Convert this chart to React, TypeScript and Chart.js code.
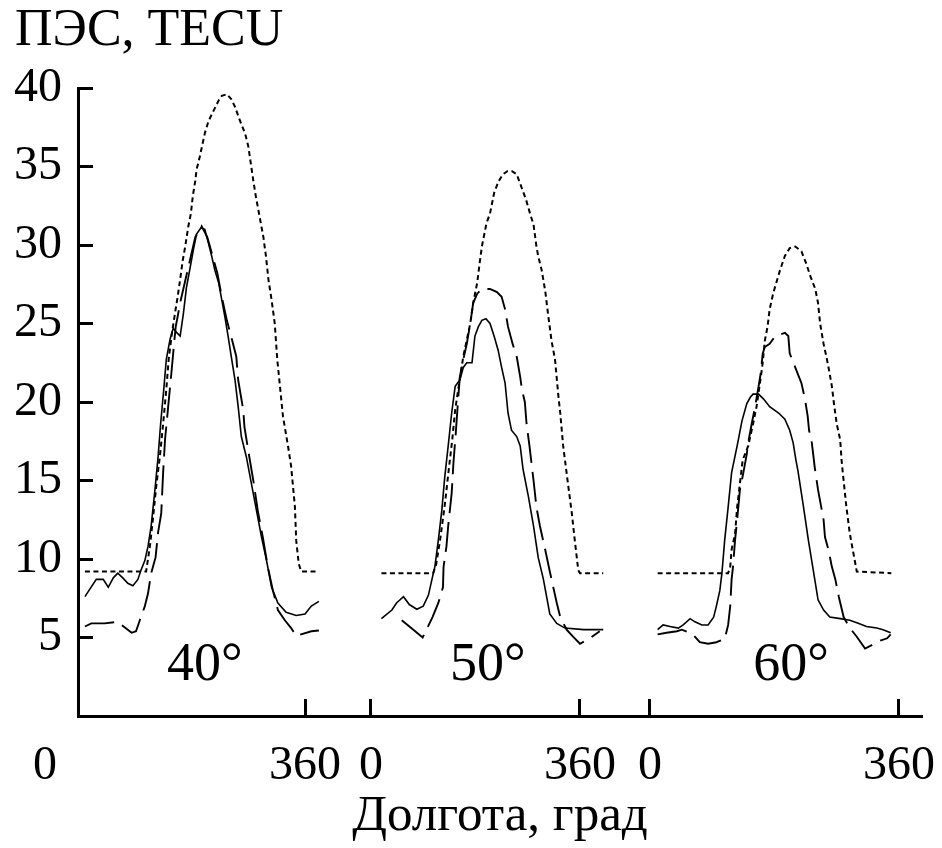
import React, { useEffect, useRef } from 'react';
import { Chart, registerables } from 'chart.js';

Chart.register(...registerables);

// ---- Data (longitude, deg; TEC, TECU) ----
// 40°
const lat40SolidLon = [11,19,29,40,48,56,63,71,79,87,95,100,106,111,116,122,127,131,136,140,146,151,157,162,167,172,178,183,188,195,201,207,212,217,223,228,233,238,243,249,254,259,267,275,283,291,299,307,317,330,346,360,370,382];
const lat40SolidTec = [7.6,8.1,8.7,8.7,8.2,8.8,9.1,8.8,8.45,8.3,8.7,9.3,9.9,10.8,12.1,14.4,16.5,18.6,20.8,22.7,24.0,24.7,24.4,24.2,25.6,27.3,28.6,29.7,30.7,31.1,31.0,30.1,29.3,28.4,27.6,26.5,25.4,24.2,22.9,21.4,19.7,17.8,16.5,14.8,13.1,11.4,9.9,8.2,7.2,6.6,6.4,6.5,7.0,7.3];
const lat40LongLon = [11,21,42,63,85,92,98,106,111,116,123,127,132,135,138,143,148,153,155,163,175,186,196,205,212,221,228,236,244,251,254,262,264,270,278,285,293,301,309,317,328,338,346,370,382];
const lat40LongTec = [5.7,5.9,5.9,6.0,5.3,5.4,6.1,7.0,7.8,9.1,10.1,11.7,12.9,15.5,17.6,19.7,21.8,24.0,24.8,26.5,28.6,30.5,31.2,30.5,29.5,28.2,26.7,25.2,24.0,22.9,21.4,19.5,18.4,16.9,15.0,13.1,11.4,9.5,8.0,6.75,6.1,5.6,5.1,5.4,5.45];
const lat40ShortLon = [11,108,114,119,124,130,135,140,144,149,154,158,162,166,170,175,179,182,186,188,193,201,207,223,228,236,243,249,257,265,270,274,278,282,288,294,298,302,307,312,316,325,333,338,344,346,350,354,381];
const lat40ShortTec = [9.2,9.2,10.8,12.6,14.6,16.6,18.6,20.8,22.8,24.4,25.7,26.7,27.8,29.0,29.9,31.2,32.0,33.1,34.1,34.8,35.6,37.1,37.9,39.2,39.5,39.6,39.3,38.8,37.9,37.1,36.3,35.2,34.1,33.1,31.8,30.5,29.3,27.8,26.5,25.0,22.7,19.1,17.2,15.9,13.3,11.2,9.7,9.2,9.2];

// 50°
const lat50SolidLon = [18,36,44,56,66,79,90,99,105,110,116,122,127,133,139,145,153,159,165,174,179,185,191,198,205,212,219,225,231,236,242,251,257,262,271,280,288,297,308,320,334,366,400];
const lat50SolidTec = [6.2,6.75,7.2,7.6,7.1,6.8,7.0,7.7,8.7,9.5,11.2,13.1,15.2,17.2,19.3,21.0,21.4,22.2,22.5,22.5,24.2,24.8,25.2,25.3,25.0,24.2,23.3,22.2,21.2,19.3,18.2,17.8,17.2,15.7,14.0,12.1,10.1,8.7,6.5,5.9,5.6,5.5,5.5];
const lat50LongLon = [53,73,89,106,116,124,125,130,133,139,142,146,150,153,159,165,171,176,183,191,205,217,225,231,236,244,251,257,260,265,268,273,280,285,291,300,308,314,320,326,337,348,360,377,394];
const lat50LongTec = [6.1,5.5,5.0,6.3,7.2,8.2,9.5,10.8,12.1,14.2,16.1,18.0,20.1,21.6,22.7,23.7,25.0,26.3,26.9,27.2,27.2,27.0,26.7,25.9,24.8,23.7,22.9,21.6,20.8,20.0,18.6,17.2,15.0,13.3,12.1,10.6,9.2,8.2,7.2,6.3,5.5,5.05,4.6,4.95,5.4];
const lat50ShortLon = [18,107,112,119,127,134,140,145,152,159,171,176,183,187,191,199,205,212,219,227,235,243,251,260,267,274,280,285,288,294,300,305,311,317,323,326,331,340,346,351,357,360,400];
const lat50ShortTec = [9.1,9.1,9.6,11.2,13.4,15.7,17.6,19.5,21.2,22.9,25.0,26.3,27.6,28.8,29.9,31.4,32.0,33.3,34.0,34.5,34.7,34.7,34.5,33.6,32.9,32.0,31.3,29.9,29.3,28.4,27.1,25.6,23.9,22.7,20.3,19.3,17.2,14.6,12.9,11.2,9.3,9.1,9.1];

// 60°
const lat60SolidLon = [11,19,29,41,48,58,65,75,84,92,96,101,104,108,113,118,126,133,140,145,149,157,164,173,186,195,202,207,211,214,222,229,236,243,251,260,275,289,301,313,328,337,348];
const lat60SolidTec = [5.5,5.8,5.7,5.6,5.8,6.2,6.0,5.8,5.8,6.3,7.0,8.0,9.1,11.2,13.3,15.5,17.2,18.8,19.9,20.3,20.5,20.5,20.2,19.7,19.3,18.9,18.2,17.4,16.3,15.6,13.3,11.2,9.3,7.4,6.75,6.3,6.2,6.1,5.9,5.7,5.6,5.5,5.3];
const lat60LongLon = [11,24,39,46,62,72,84,96,108,113,116,118,120,123,126,130,135,140,142,147,152,157,160,163,166,173,181,188,195,200,202,210,219,224,228,230,234,237,238,243,251,253,258,263,268,273,280,289,299,311,320,333,343,348];
const lat60LongTec = [5.2,5.3,5.4,5.5,5.2,4.7,4.6,4.7,4.9,5.8,7.0,8.7,9.5,11.2,12.5,14.4,15.5,16.7,17.4,18.6,19.7,21.0,21.8,23.1,23.5,23.7,24.2,24.3,24.4,24.2,23.1,22.2,21.2,20.2,19.1,18.2,17.4,16.3,15.9,14.4,12.5,11.4,10.6,9.5,8.7,7.6,6.3,5.6,5.05,4.3,4.5,4.8,4.95,5.2];
const lat60ShortLon = [11,113,116,118,123,126,130,134,142,149,154,159,163,166,170,173,178,184,188,195,202,210,219,226,232,239,243,246,251,255,259,263,266,270,275,277,279,284,289,294,299,349];
const lat60ShortTec = [9.1,9.1,9.5,10.6,11.6,13.3,14.8,16.3,17.2,18.6,19.7,21.2,22.5,23.9,24.8,25.9,26.9,27.8,28.4,29.3,29.8,29.9,29.6,28.8,28.0,27.2,26.3,25.0,23.7,22.9,22.0,21.0,19.9,18.6,17.6,16.3,15.4,13.3,11.6,10.4,9.2,9.1];

const panelLabels = ['40°', '50°', '60°'];
const xTickValues = [0, 360];
const yTickStep = 5;
const yMin = 0;
const yMax = 40;

const yTitle = 'ПЭС, TECU';
const xTitle = 'Долгота, град';

// ---- Layout / style (not data) ----
const FONT = "'Liberation Serif', 'Times New Roman', serif";
const FS = 48;
const FS_TITLE = 52;
const FS_XTITLE = 51;
const FS_PANEL = 54;
const panelMin = [0, -56.8, -50.6];
const panelMax = [412.3, 420.3, 393.3];
const panelWeight = [260, 277, 307];
const panelLabelLon = [201, 201, 204];
const panelLabelTec = 3.2;
const X_TICK_LEN = -17;
const X_TICK_PAD = 39;
const X_AXIS_H = 63;

const SOLID = { borderWidth: 1.6, borderDash: [] as number[] };
const LONG = { borderWidth: 1.9, borderDash: [30, 9] };
const SHORT = { borderWidth: 2, borderDash: [5, 3.5] };

function series(lon: number[], tec: number[], axis: string, style: any) {
  return {
    data: lon.map((x, i) => ({ x, y: tec[i] })),
    xAxisID: axis,
    yAxisID: 'y',
    borderColor: '#000',
    backgroundColor: '#000',
    borderWidth: style.borderWidth,
    borderDash: style.borderDash,
    pointRadius: 0,
    fill: false,
    tension: 0,
  };
}

const extraText = {
  id: 'extraText',
  afterDraw(chart: any) {
    const ctx = chart.ctx;
    const y = chart.scales.y;
    ctx.save();
    ctx.fillStyle = '#000';
    ctx.textAlign = 'center';
    ctx.textBaseline = 'middle';
    ctx.font = `${FS_PANEL}px ${FONT}`;
    panelLabels.forEach((t, i) => {
      const sx = chart.scales['x' + (i + 1)];
      ctx.fillText(t, sx.getPixelForValue(panelLabelLon[i]), y.getPixelForValue(panelLabelTec));
    });
    ctx.font = `${FS}px ${FONT}`;
    const s1 = chart.scales.x1;
    const ly = s1.top + X_TICK_LEN + X_TICK_PAD + (FS * 1.2) / 2;
    ctx.fillText(String(xTickValues[0]), s1.getPixelForValue(xTickValues[0]) - 33, ly);
    ctx.restore();
  },
};

function xScale(i: number) {
  return {
    type: 'linear',
    position: 'bottom',
    stack: 'lon',
    stackWeight: panelWeight[i],
    min: panelMin[i],
    max: panelMax[i],
    afterBuildTicks: (s: any) => {
      s.ticks = xTickValues.map((v) => ({ value: v }));
    },
    afterFit: (s: any) => {
      s.height = X_AXIS_H;
      s.paddingLeft = 0;
      s.paddingRight = 0;
    },
    grid: {
      drawOnChartArea: false,
      drawTicks: true,
      tickLength: X_TICK_LEN,
      tickWidth: 3,
      tickColor: '#000',
      color: '#000',
    },
    border: { display: true, color: '#000', width: 3 },
    ticks: {
      autoSkip: false,
      maxRotation: 0,
      minRotation: 0,
      padding: X_TICK_PAD,
      color: '#000',
      font: { family: FONT, size: FS },
      callback: (v: number) => (i === 0 && v === 0 ? '' : String(v)),
    },
  };
}

export default function App() {
  const ref = useRef<HTMLCanvasElement>(null);
  useEffect(() => {
    if (!ref.current) return;
    const datasets = [
      series(lat40ShortLon, lat40ShortTec, 'x1', SHORT),
      series(lat40LongLon, lat40LongTec, 'x1', LONG),
      series(lat40SolidLon, lat40SolidTec, 'x1', SOLID),
      series(lat50ShortLon, lat50ShortTec, 'x2', SHORT),
      series(lat50LongLon, lat50LongTec, 'x2', LONG),
      series(lat50SolidLon, lat50SolidTec, 'x2', SOLID),
      series(lat60ShortLon, lat60ShortTec, 'x3', SHORT),
      series(lat60LongLon, lat60LongTec, 'x3', LONG),
      series(lat60SolidLon, lat60SolidTec, 'x3', SOLID),
    ];
    const chart = new Chart(ref.current, {
      type: 'line',
      data: { datasets } as any,
      options: {
        responsive: false,
        animation: false,
        events: [],
        layout: { autoPadding: false, padding: { left: 15, right: 20, top: 0, bottom: 0 } },
        plugins: {
          legend: { display: false },
          tooltip: { enabled: false },
          title: {
            display: true,
            text: yTitle,
            align: 'start',
            color: '#000',
            font: { family: FONT, size: FS_TITLE, weight: 'normal' },
            padding: { top: 0, bottom: 88 - FS_TITLE * 1.2 },
          },
          subtitle: {
            display: true,
            text: xTitle,
            position: 'bottom',
            fullSize: false,
            color: '#000',
            font: { family: FONT, size: FS_XTITLE, weight: 'normal' },
            padding: { top: 7, bottom: 132 - X_AXIS_H - 7 - FS_XTITLE * 1.2 },
          },
        },
        scales: {
          x1: xScale(0),
          x2: xScale(1),
          x3: xScale(2),
          y: {
            type: 'linear',
            position: 'left',
            min: yMin,
            max: yMax,
            afterFit: (s: any) => {
              s.width = 63;
            },
            grid: {
              drawOnChartArea: false,
              drawTicks: true,
              tickLength: -15,
              tickWidth: 3,
              tickColor: '#000',
              color: '#000',
            },
            border: { display: true, color: '#000', width: 3 },
            ticks: {
              stepSize: yTickStep,
              padding: 31,
              color: '#000',
              font: { family: FONT, size: FS },
              callback: (v: number) => (v === 0 ? '' : String(v)),
            },
          },
        } as any,
      } as any,
      plugins: [extraText],
    });
    return () => chart.destroy();
  }, []);
  return (
    <div style={{ position: 'absolute', left: 0, top: 0, width: 942, height: 848, background: '#fff' }}>
      <canvas ref={ref} width={942} height={848} style={{ display: 'block' }} />
    </div>
  );
}
